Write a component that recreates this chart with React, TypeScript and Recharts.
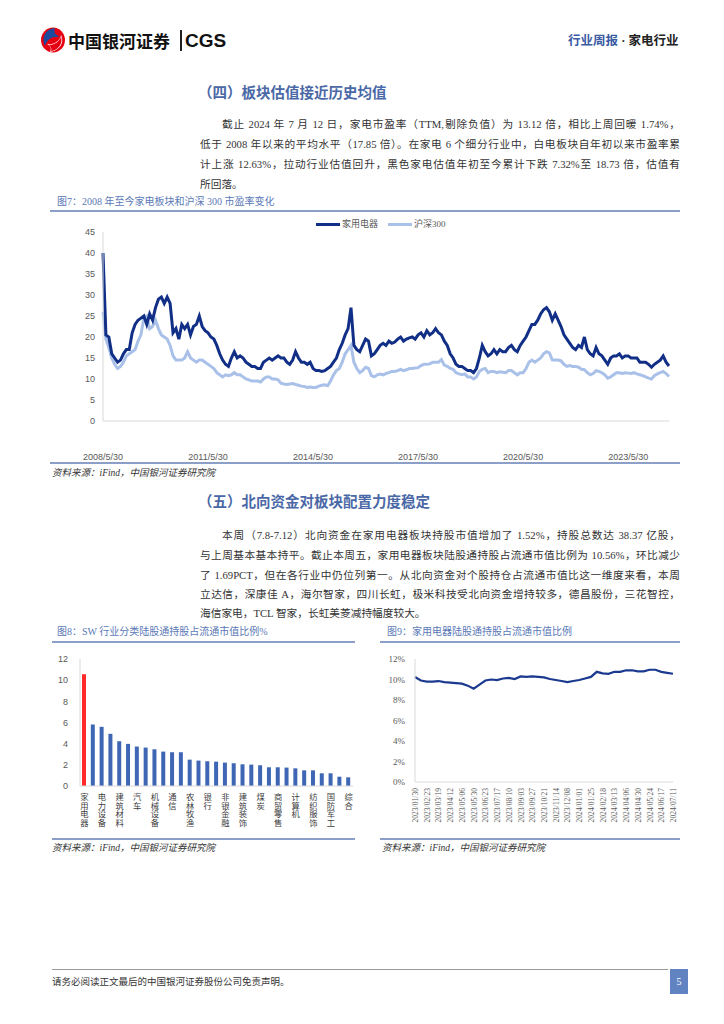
import React from 'react';
import { LineChart, Line, XAxis, YAxis, BarChart, Bar, Cell } from 'recharts';

const SANS = "'Liberation Sans', Arial, 'Noto Sans CJK SC', sans-serif";
const SERIF = "'Liberation Serif', 'Noto Sans CJK SC', serif";
const CJK = "'Liberation Serif', 'Noto Sans CJK SC', sans-serif";

// ---------- Figure 7: monthly P/E (TTM), 2008/05 .. 2024/07 ----------
const applianceMonthlyPE = [
  40, 20.5, 20, 16, 15, 14, 14.5, 16, // 2008 May-Dec
  17, 17, 21, 23, 24, 24.5, 25, 23, 25.5, 24, 27, 29, // 2009
  29.5, 28, 29.5, 28, 21, 22, 19.5, 23, 22, 23, 20.5, 22.5, // 2010
  23, 25, 22.5, 21.5, 21, 20, 19.5, 18, 16, 14.5, 13.5, 13, // 2011
  15, 16.5, 15, 15.5, 15, 14, 13.5, 13, 13, 12.5, 12.5, 14, // 2012
  14.5, 15, 14.5, 15, 15.5, 15, 15, 14, 13.5, 14.5, 16.5, 15, // 2013
  14, 14, 13.5, 14, 12.5, 12, 12, 11.8, 12, 12.5, 13, 14, // 2014
  15, 17, 18.5, 20.5, 22, 27, 18, 17, 16.5, 18, 19.5, 19, // 2015
  15.5, 16, 17, 18, 18.5, 18, 19, 18.5, 18.8, 19.5, 20, 19, // 2016
  19.5, 19.8, 20, 19.5, 20.5, 21, 20, 21.5, 20.5, 21, 22, 21, // 2017
  20.5, 19, 18, 16, 15, 13.5, 13, 13, 12.5, 12, 12, 11.5, // 2018
  12.5, 15, 18, 16.5, 15.5, 16, 17, 16, 17, 16.5, 16.5, 17.5, // 2019
  18, 17, 16.5, 18, 19, 20, 21.5, 23, 23, 24, 25.5, 26.5, // 2020
  27, 26, 24, 25.5, 24, 22.5, 20.5, 19.5, 18.5, 17.5, 17, 18, // 2021
  17.5, 20, 17, 16, 15.5, 17.5, 16, 15.5, 14.5, 13.5, 15, 15.5, // 2022
  15.5, 16, 15, 15.5, 15.5, 15, 15, 15, 14, 14, 14, 13.5, // 2023
  12.8, 13.5, 14, 14.5, 15.5, 14, 13.1, // 2024 Jan-Jul
];
const hs300MonthlyPE = [
  26, 19.5, 17.5, 15, 13.5, 12.5, 13, 14, // 2008 May-Dec
  15.5, 16, 16.5, 17, 19, 20.5, 24.5, 25, 22, 22.5, 24, 22, // 2009
  20.5, 20, 19.5, 18, 15.5, 14.5, 14.5, 14.5, 15, 16.5, 15, 14.5, // 2010
  14, 14.5, 14.5, 14, 13.5, 13, 12.5, 11.5, 11, 10.5, 11, 10.8, // 2011
  11, 11.5, 11, 11, 10.5, 10, 9.8, 9.5, 9.5, 9.5, 9.3, 10, // 2012
  10.5, 10.5, 10, 10, 9.8, 9, 8.8, 8.7, 8.8, 8.9, 8.7, 8.5, // 2013
  8.3, 8.2, 8, 8.1, 8, 8, 8.3, 8.5, 8.6, 8.4, 9.5, 11, // 2014
  12, 12.5, 14, 16, 17, 18, 14, 12.5, 11.5, 12, 12.8, 12.5, // 2015
  10.8, 10.5, 11, 11.2, 11, 11.3, 11.5, 11.8, 11.8, 12, 12.3, 12, // 2016
  12.2, 12.5, 12.5, 12.6, 12.7, 13.2, 13.5, 13.5, 13.6, 14, 14, 14, // 2017
  14.6, 13.3, 13, 12.5, 12.3, 11.5, 11.2, 11, 11.2, 10.5, 10.5, 10, // 2018
  10.5, 11.8, 12.3, 12.5, 11.5, 11.8, 11.8, 11.5, 11.7, 11.6, 11.5, 12, // 2019
  12, 11.5, 11, 11.5, 11.5, 12.5, 14, 14.5, 14, 14.5, 15, 16, // 2020
  16.5, 16.2, 14.5, 14.5, 14.5, 14.3, 13.5, 13, 13.2, 13, 13, 12.8, // 2021
  12.3, 12.2, 11.5, 11, 11.3, 12, 11.8, 11.5, 11, 10.2, 10.5, 11, // 2022
  11.5, 11.5, 11.3, 11.5, 11.4, 11.3, 11.5, 11.2, 11, 10.8, 10.5, 10.2, // 2023
  10, 10.8, 11.2, 11.5, 11.8, 11.3, 10.6, // 2024 Jan-Jul
];
const peTickPositions = [0, 36, 72, 108, 144, 180]; // months since 2008/05
const peTickLabels = ['2008/5/30', '2011/5/30', '2014/5/30', '2017/5/30', '2020/5/30', '2023/5/30'];
const peYTicks = [0, 5, 10, 15, 20, 25, 30, 35, 40, 45];
const peRows = applianceMonthlyPE.map((v, i) => ({ m: i, appliance: v, hs300: hs300MonthlyPE[i] }));

// ---------- Figure 8: SW industries, northbound holding % of float ----------
const swIndustries = [
  '家用电器', '食品饮料', '电力设备', '有色金属', '建筑材料', '医药生物', '汽车', '电子',
  '机械设备', '基础化工', '通信', '交通运输', '农林牧渔', '轻工制造', '银行', '公用事业',
  '非银金融', '石油石化', '建筑装饰', '社会服务', '煤炭', '传媒', '商贸零售', '钢铁',
  '计算机', '环保', '纺织服饰', '房地产', '国防军工', '美容护理', '综合',
];
const swHoldingRatio = [
  10.56, 5.81, 5.59, 4.93, 4.23, 3.98, 3.73, 3.63, 3.47, 3.25, 3.19, 3.19, 2.49, 2.40, 2.34, 2.30,
  2.21, 2.15, 2.05, 2.02, 1.96, 1.77, 1.77, 1.74, 1.67, 1.48, 1.48, 1.20, 1.20, 0.88, 0.82,
];
const swYTicks = [0, 2, 4, 6, 8, 10, 12];
const swRows = swIndustries.map((n, i) => ({ name: n, v: swHoldingRatio[i] }));

// ---------- Figure 9: appliance northbound holding % (every 12 days from 2023/01/30) ----------
const applianceHoldingPct = [
  10.25, 9.9, 9.8, 9.8, 9.85, 9.75, 9.7, 9.65, 9.6, 9.4, 9.1, 9.5, 9.9, 10.0, 9.95, 10.1,
  10.15, 10.05, 10.3, 10.25, 10.3, 10.25, 10.2, 10.05, 9.95, 9.85, 9.75, 9.85, 9.95, 10.1,
  10.25, 10.75, 10.6, 10.55, 10.75, 10.75, 10.9, 10.9, 10.8, 10.8, 10.95, 10.95, 10.75, 10.65, 10.56,
];
const holdingTickLabels = [
  '2023/01/30', '2023/02/23', '2023/03/19', '2023/04/12', '2023/05/06', '2023/05/30', '2023/06/23',
  '2023/07/17', '2023/08/10', '2023/09/03', '2023/09/27', '2023/10/21', '2023/11/14', '2023/12/08',
  '2024/01/01', '2024/01/25', '2024/02/18', '2024/03/13', '2024/04/06', '2024/04/30', '2024/05/24',
  '2024/06/17', '2024/07/11',
];
const holdingTickDays = holdingTickLabels.map((_, i) => i * 24);
const holdingYTicks = [0, 2, 4, 6, 8, 10, 12];
const holdingRows = applianceHoldingPct.map((v, i) => ({ d: i * 12, v }));

// ---------- text ----------
const para1 = [
  '截止 2024 年 7 月 12 日，家电市盈率（TTM,剔除负值）为 13.12 倍，相比上周回暖 1.74%，',
  '低于 2008 年以来的平均水平（17.85 倍）。在家电 6 个细分行业中，白电板块自年初以来市盈率累',
  '计上涨 12.63%，拉动行业估值回升，黑色家电估值年初至今累计下跌 7.32%至 18.73 倍，估值有',
  '所回落。',
];
const para2 = [
  '本周（7.8-7.12）北向资金在家用电器板块持股市值增加了 1.52%，持股总数达 38.37 亿股，',
  '与上周基本基本持平。截止本周五，家用电器板块陆股通持股占流通市值比例为 10.56%，环比减少',
  '了 1.69PCT，但在各行业中仍位列第一。从北向资金对个股持仓占流通市值比这一维度来看，本周',
  '立达信，深康佳 A，海尔智家，四川长虹，极米科技受北向资金增持较多，德昌股份，三花智控，',
  '海信家电，TCL 智家，长虹美菱减持幅度较大。',
];

const DARK = '#112f86';
const LIGHT = '#a9c1e8';
const CAPTION = '#5a78b6';
const RULE = '#8c9fc8';

function Txt(props: { x: number; y: number; size: number; color?: string; bold?: boolean; font?: string; italic?: boolean; children: React.ReactNode }) {
  return (
    <div
      style={{
        position: 'absolute', left: props.x, top: props.y - props.size * 0.65, fontSize: props.size,
        lineHeight: `${props.size * 1.3}px`, whiteSpace: 'nowrap', color: props.color || '#333',
        fontWeight: props.bold ? 700 : 400, fontFamily: props.font || CJK, fontStyle: props.italic ? 'italic' : 'normal',
      }}
    >
      {props.children}
    </div>
  );
}

function BodyLine(props: { x: number; y: number; w: number; text: string; last?: boolean }) {
  return (
    <div
      style={{
        position: 'absolute', left: props.x, top: props.y - 8, width: props.w, height: 16, fontSize: 10.7,
        lineHeight: '16px', color: '#333', fontFamily: CJK, textAlign: props.last ? 'left' : 'justify',
        textAlignLast: props.last ? 'left' : 'justify', whiteSpace: props.last ? 'nowrap' : 'normal',
      } as React.CSSProperties}
    >
      {props.text}
    </div>
  );
}

function Rule(props: { x1: number; x2: number; y: number; color?: string; h?: number }) {
  return <div style={{ position: 'absolute', left: props.x1, top: props.y, width: props.x2 - props.x1, height: props.h || 1.5, background: props.color || RULE }} />;
}

function Source(props: { x: number; y: number }) {
  return (
    <Txt x={props.x} y={props.y} size={9.5} color="#333" italic>
      资料来源：<span style={{ fontFamily: SERIF }}>iFind</span>，中国银河证券研究院
    </Txt>
  );
}

const VerticalTick = (props: any) => {
  const { x, y, payload } = props;
  const chars = Array.from(String(payload.value));
  return (
    <g>
      {chars.map((c, i) => (
        <text key={i} x={x} y={y + 6 + 8.6 * i} textAnchor="middle" fontSize={8.3} fill="#404040" fontFamily={CJK}>
          {c}
        </text>
      ))}
    </g>
  );
};

const RotatedDateTick = (props: any) => {
  const { x, y, payload } = props;
  const idx = holdingTickDays.indexOf(payload.value);
  return (
    <text x={0} y={0} transform={`translate(${x + 3},${y - 2}) rotate(-90)`} textAnchor="end" fontSize={7.6} fill="#595959" fontFamily={SERIF}>
      {holdingTickLabels[idx]}
    </text>
  );
};

function Logo() {
  return (
    <svg width={28} height={28} style={{ position: 'absolute', left: 39, top: 26 }} viewBox="0 0 28 28">
      <ellipse cx={14} cy={14} rx={12} ry={12.5} fill="#e60012" />
      <path d="M16 2 C 6 3, 2 12, 6 20 C 8 13, 14 10, 21 11 C 18 9, 14 8, 16 2 Z" fill="#1d4a9c" />
      <path d="M11 26 C 20 25, 26 17, 22 9 C 21 15, 15 19, 8 18 C 11 20, 13 22, 11 26 Z" fill="#fff" opacity={0.9} />
      <path d="M12 25 C 19 24, 24 18, 22 11 C 20 16, 15 19, 10 19 C 12 21, 13 23, 12 25 Z" fill="#e60012" />
    </svg>
  );
}

export default function App() {
  return (
    <div style={{ position: 'absolute', left: 0, top: 0, width: 724, height: 1024, background: '#fff', overflow: 'hidden' }}>
      {/* header */}
      <Logo />
      <Txt x={68} y={41} size={17} bold color="#111" font="'Noto Sans CJK SC', sans-serif">中国银河证券</Txt>
      <div style={{ position: 'absolute', left: 180, top: 30, width: 1.5, height: 21, background: '#222' }} />
      <Txt x={185} y={41} size={19} bold color="#111" font={SANS}>CGS</Txt>
      <Txt x={568} y={41} size={12.5} bold color="#3b5ba3">
        行业周报 <span style={{ color: '#333' }}>·</span> <span style={{ color: '#222' }}>家电行业</span>
      </Txt>

      {/* section 4 */}
      <Txt x={198} y={93} size={14.5} bold color="#4a68a6">（四）板块估值接近历史均值</Txt>
      <BodyLine x={222} y={124} w={458} text={para1[0]} />
      <BodyLine x={200} y={144} w={480} text={para1[1]} />
      <BodyLine x={200} y={164} w={480} text={para1[2]} />
      <BodyLine x={200} y={184} w={480} text={para1[3]} last />

      <Txt x={57} y={201} size={10} color={CAPTION}>图7：2008 年至今家电板块和沪深 300 市盈率变化</Txt>
      <Rule x1={50} x2={680} y={210} />

      {/* legend 7 */}
      <div style={{ position: 'absolute', left: 316, top: 223, width: 24, height: 3, background: DARK }} />
      <Txt x={342} y={225} size={9} color="#595959">家用电器</Txt>
      <div style={{ position: 'absolute', left: 388, top: 223, width: 24, height: 3, background: LIGHT }} />
      <Txt x={414} y={225} size={9} color="#595959">沪深300</Txt>

      <div style={{ position: 'absolute', left: 60, top: 222 }}>
        <LineChart width={620} height={250} data={peRows} margin={{ top: 10, right: 11, bottom: 0, left: 0 }}>
          <XAxis
            type="number" dataKey="m" domain={[0, 194]} ticks={peTickPositions} interval={0}
            tickFormatter={(v: number) => peTickLabels[peTickPositions.indexOf(v)]}
            axisLine={{ stroke: '#d9d9d9' }} tickLine={false} tickMargin={27} height={51}
            tick={{ fontSize: 9, fill: '#595959', fontFamily: SANS }}
          />
          <YAxis
            type="number" domain={[0, 45]} ticks={peYTicks} interval={0} width={43}
            axisLine={{ stroke: '#d9d9d9' }} tickLine={false}
            tick={{ fontSize: 9, fill: '#595959', fontFamily: SANS }}
          />
          <Line type="linear" dataKey="hs300" stroke={LIGHT} strokeWidth={3} dot={false} isAnimationActive={false} />
          <Line type="linear" dataKey="appliance" stroke={DARK} strokeWidth={3} dot={false} isAnimationActive={false} />
        </LineChart>
      </div>

      <Rule x1={50} x2={680} y={462} />
      <Source x={52} y={473} />

      {/* section 5 */}
      <Txt x={198} y={502} size={14.5} bold color="#4a68a6">（五）北向资金对板块配置力度稳定</Txt>
      <BodyLine x={222} y={535} w={458} text={para2[0]} />
      <BodyLine x={200} y={555} w={480} text={para2[1]} />
      <BodyLine x={200} y={575} w={480} text={para2[2]} />
      <BodyLine x={200} y={594} w={480} text={para2[3]} />
      <BodyLine x={200} y={613} w={480} text={para2[4]} last />

      {/* figure 8 */}
      <Txt x={57} y={631} size={10} color={CAPTION}>图8：SW 行业分类陆股通持股占流通市值比例%</Txt>
      <Rule x1={52} x2={355} y={641} />
      <div style={{ position: 'absolute', left: 40, top: 650 }}>
        <BarChart width={320} height={190} data={swRows} margin={{ top: 9, right: 7, bottom: 0, left: 0 }}>
          <XAxis
            dataKey="name" interval={1} tick={<VerticalTick />} tickLine={false}
            axisLine={{ stroke: '#d9d9d9' }} height={54}
          />
          <YAxis
            type="number" domain={[0, 12]} ticks={swYTicks} interval={0} width={40}
            axisLine={{ stroke: '#d9d9d9' }} tickLine={false} tickMargin={6}
            tick={{ fontSize: 9, fill: '#595959', fontFamily: SANS }}
          />
          <Bar dataKey="v" barSize={4} isAnimationActive={false}>
            {swRows.map((r, i) => (
              <Cell key={r.name} fill={i === 0 ? '#ff2b2b' : '#3f66b4'} />
            ))}
          </Bar>
        </BarChart>
      </div>
      <Rule x1={52} x2={355} y={838} />
      <Source x={52} y={848} />

      {/* figure 9 */}
      <Txt x={387} y={631} size={10} color={CAPTION}>图9：家用电器陆股通持股占流通市值比例</Txt>
      <Rule x1={380} x2={680} y={641} />
      <div style={{ position: 'absolute', left: 360, top: 650 }}>
        <LineChart width={330} height={190} data={holdingRows} margin={{ top: 9, right: 17, bottom: 0, left: 0 }}>
          <XAxis
            type="number" dataKey="d" domain={[0, 528]} ticks={holdingTickDays} interval={0}
            tick={<RotatedDateTick />} tickLine={false} axisLine={{ stroke: '#d9d9d9' }} height={58}
          />
          <YAxis
            type="number" domain={[0, 12]} ticks={holdingYTicks} interval={0} width={55}
            tickFormatter={(v: number) => `${v}%`}
            axisLine={{ stroke: '#d9d9d9' }} tickLine={false} tickMargin={4}
            tick={{ fontSize: 9, fill: '#595959', fontFamily: SERIF }}
          />
          <Line type="linear" dataKey="v" stroke="#1b3a8f" strokeWidth={2.2} dot={false} isAnimationActive={false} />
        </LineChart>
      </div>
      <Rule x1={380} x2={680} y={838} />
      <Source x={382} y={848} />

      {/* footer */}
      <Rule x1={52} x2={668} y={969} color="#9a9a9a" h={1} />
      <Txt x={52} y={982} size={9.5} color="#333">请务必阅读正文最后的中国银河证券股份公司免责声明。</Txt>
      <div style={{ position: 'absolute', left: 670, top: 969, width: 18, height: 25, background: '#6283c2', color: '#fff', fontSize: 10, fontFamily: SERIF, textAlign: 'center', lineHeight: '25px' }}>5</div>
    </div>
  );
}
